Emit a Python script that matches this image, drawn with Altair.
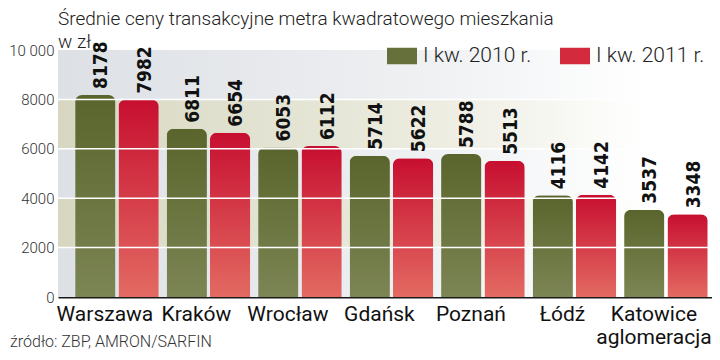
import altair as alt
import pandas as pd

cities = ["Warszawa", "Kraków", "Wrocław", "Gdańsk", "Poznań", "Łódź", "Katowice aglomeracja"]
series_names = ["I kw. 2010 r.", "I kw. 2011 r."]
values_2010 = [8178, 6811, 6053, 5714, 5788, 4116, 3537]
values_2011 = [7982, 6654, 6112, 5622, 5513, 4142, 3348]
y_ticks = [0, 2000, 4000, 6000, 8000, 10000]

title_text = "Średnie ceny transakcyjne metra kwadratowego mieszkania"
subtitle_text = "w zł"
source_text = "źródło: ZBP, AMRON/SARFIN"

rows = []
for c, a, b in zip(cities, values_2010, values_2011):
    rows.append({"city": c, "series": series_names[0], "value": a})
    rows.append({"city": c, "series": series_names[1], "value": b})
df = pd.DataFrame(rows)
city_df = pd.DataFrame({"city": cities})

bands = pd.DataFrame({
    "y0": y_ticks[:-1],
    "y1": y_ticks[1:],
    "k": [i % 2 for i in range(len(y_ticks) - 1)],
})
grid = pd.DataFrame({"v": y_ticks[1:-1]})

W, H = 654, 247

def hgrad(c0, c1):
    return {"gradient": "linear", "x1": 0, "y1": 0, "x2": 1, "y2": 0,
            "stops": [{"offset": 0, "color": c0},
                      {"offset": 0.55, "color": c1},
                      {"offset": 0.9, "color": "#ffffff"},
                      {"offset": 1, "color": "#ffffff"}]}

def vgrad(c0, c1):
    return {"gradient": "linear", "x1": 0, "y1": 0, "x2": 0, "y2": 1,
            "stops": [{"offset": 0, "color": c0}, {"offset": 1, "color": c1}]}

grey_band = hgrad("#dde0e5", "#eef0f2")
olive_band = hgrad("#d7d7c1", "#ebebdf")
green_grad = vgrad("#59652c", "#7c8554")
red_grad = vgrad("#c70f30", "#e36a62")

yscale = alt.Scale(domain=[0, 10000], nice=False)
yaxis = alt.Axis(values=y_ticks, grid=False, domain=False, ticks=False,
                 labelFont="Roboto", labelFontWeight=300, labelFontSize=15,
                 labelColor="#333333", labelPadding=4,
                 labelExpr="datum.value == 10000 ? '10 000' : format(datum.value, 'd')")

xscale = alt.Scale(paddingInner=0.086, paddingOuter=0.117, align=0.8)

background = alt.Chart(bands).mark_rect().encode(
    x=alt.value(0), x2=alt.value(W),
    y=alt.Y("y0:Q", scale=yscale, axis=yaxis, title=None),
    y2="y1:Q",
    color=alt.condition("datum.k == 0", alt.value(grey_band), alt.value(olive_band)),
)

xenc = alt.X("city:N", sort=cities, title=None, scale=xscale,
             axis=alt.Axis(labels=False, ticks=False,
                           domainColor="#1a1a1a", domainWidth=2))
xoff = alt.XOffset("series:N", sort=series_names,
                   scale=alt.Scale(paddingInner=0.07, paddingOuter=0))

bars = alt.Chart(df).mark_bar(cornerRadiusTopLeft=7, cornerRadiusTopRight=7).encode(
    x=xenc,
    xOffset=xoff,
    y=alt.Y("value:Q", scale=yscale, title=None),
    color=alt.condition(f"datum.series == '{series_names[0]}'",
                        alt.value(green_grad), alt.value(red_grad)),
)

rules = alt.Chart(grid).mark_rule(color="#ffffff", strokeWidth=1.5).encode(
    y=alt.Y("v:Q", scale=yscale, title=None)
)

labels = alt.Chart(df).mark_text(
    angle=270, align="left", baseline="middle", dx=6, dy=6,
    font="DejaVu Sans Condensed", fontWeight="bold", fontSize=19, color="#111111",
).encode(
    x=alt.X("city:N", sort=cities, title=None),
    xOffset=alt.XOffset("series:N", sort=series_names),
    y=alt.Y("value:Q", scale=yscale, title=None),
    text=alt.Text("value:Q", format="d"),
)

city_labels = alt.Chart(city_df).transform_calculate(
    lbl="replace(datum.city, ' ', '\\n')"
).mark_text(
    align="center", baseline="top", dx=-12, font="Roboto", fontSize=21,
    color="#111111", lineBreak="\n", lineHeight=23,
).encode(
    x=alt.X("city:N", sort=cities, title=None),
    y=alt.value(H + 7),
    text="lbl:N",
)

legend_layer = alt.Chart(df).mark_square(opacity=0).encode(
    x=alt.X("city:N", sort=cities, title=None),
    y=alt.Y("value:Q", scale=yscale, title=None),
    color=alt.Color("series:N", sort=series_names,
                    scale=alt.Scale(domain=series_names, range=["#66703a", "#d42a3e"]),
                    legend=alt.Legend(orient="none", legendX=329, legendY=-9,
                                      direction="horizontal", title=None,
                                      symbolType="M-1,-0.55H1V0.55H-1Z", symbolSize=900,
                                      symbolOpacity=1, symbolStrokeWidth=0,
                                      labelFont="Roboto", labelFontWeight=300,
                                      labelFontSize=21, labelColor="#222222",
                                      labelOffset=6, columnPadding=28, padding=0)),
)

text_df = pd.DataFrame({"t": [title_text, subtitle_text, source_text],
                        "k": ["title", "sub", "src"]})
title_mark = alt.Chart(text_df).transform_filter("datum.k == 'title'").mark_text(
    align="left", baseline="alphabetic", font="Roboto", fontWeight=300,
    fontSize=19, color="#222222",
).encode(x=alt.value(0), y=alt.value(-25), text="t:N")
sub_mark = alt.Chart(text_df).transform_filter("datum.k == 'sub'").mark_text(
    align="left", baseline="alphabetic", font="Roboto", fontWeight=300,
    fontSize=19, color="#222222",
).encode(x=alt.value(0), y=alt.value(-2), text="t:N")
source = alt.Chart(text_df).transform_filter("datum.k == 'src'").mark_text(
    align="left", baseline="alphabetic", font="Roboto", fontWeight=300,
    fontSize=16, color="#333333",
).encode(x=alt.value(-48), y=alt.value(297), text="t:N")

chart = alt.layer(background, bars, rules, labels, city_labels, legend_layer,
                  title_mark, sub_mark, source).properties(
    width=W, height=H,
    autosize=alt.AutoSizeParams(type="none"),
    padding={"left": 50, "top": 42, "right": 0, "bottom": 55},
).configure_view(stroke=None)

chart.save("out.html", embed_options={"renderer": "svg", "actions": False})
